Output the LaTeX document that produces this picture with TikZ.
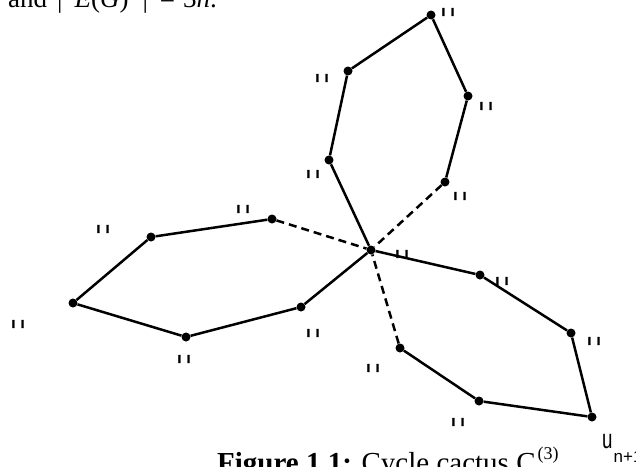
\documentclass[tikz,border=0pt]{standalone}
\usepackage{fontspec}
\setmainfont{Liberation Serif}
\newfontfamily\lblfont{Liberation Sans}
\newfontfamily\lblbold[FakeBold=1.5]{Liberation Sans Bold}
\begin{document}
\begin{tikzpicture}[x=1pt,y=-1pt,
  vtx/.style={circle,fill=black,inner sep=0pt,minimum size=9pt},
  edg/.style={line width=2.5pt},
  dsh/.style={line width=2.5pt,dash pattern=on 8pt off 5pt},
  lbl/.style={inner sep=0pt,font=\lblbold\fontsize{15}{15}\selectfont}]
\useasboundingbox (0,0) rectangle (636,466);
\clip (0,0) rectangle (636,466);
% vertices
\node[vtx] (c) at (371,250) {};
\node[vtx] (t1) at (329,160) {};
\node[vtx] (t2) at (348,71) {};
\node[vtx] (t3) at (431,15) {};
\node[vtx] (t4) at (468,96) {};
\node[vtx] (t5) at (445,182) {};
\node[vtx] (l1) at (272,219) {};
\node[vtx] (l2) at (151,237) {};
\node[vtx] (l3) at (73,303) {};
\node[vtx] (l4) at (186,337) {};
\node[vtx] (l5) at (301,307) {};
\node[vtx] (r1) at (480,275) {};
\node[vtx] (r2) at (571,333) {};
\node[vtx] (r3) at (592,417) {};
\node[vtx] (r4) at (479,401) {};
\node[vtx] (r5) at (400,348) {};
% edges
\draw[edg] (c) -- (t1) -- (t2) -- (t3) -- (t4) -- (t5);
\draw[dsh] (t5) -- (c);
\draw[dsh] (l1) -- (c);
\draw[edg] (l1) -- (l2) -- (l3) -- (l4) -- (l5) -- (c);
\draw[edg] (c) -- (r1) -- (r2) -- (r3) -- (r4) -- (r5);
\draw[dsh] (r5) -- (c);
% labels
\node[lbl] (a1) at (448,12) {ı\kern5ptı};
\node[lbl] (a2) at (322,78) {ı\kern5ptı};
\node[lbl] (a3) at (486,106) {ı\kern5ptı};
\node[lbl] (a4) at (313,174) {ı\kern5ptı};
\node[lbl] (a5) at (460,196) {ı\kern5ptı};
\node[lbl] (a6) at (402,254) {ı\kern5ptı};
\node[lbl] (a7) at (243,209) {ı\kern5ptı};
\node[lbl] (a8) at (103,229) {ı\kern5ptı};
\node[lbl] (a9) at (18,324) {ı\kern5ptı};
\node[lbl] (a10) at (184,359) {ı\kern5ptı};
\node[lbl] (a11) at (313,333) {ı\kern5ptı};
\node[lbl] (a12) at (502,281) {ı\kern5ptı};
\node[lbl] (a13) at (594,341) {ı\kern5ptı};
\node[lbl] (a14) at (373,368) {ı\kern5ptı};
\node[lbl] (a15) at (458,422) {ı\kern5ptı};
\node[inner sep=0pt,anchor=base west,font=\lblfont] (un) at (602,448)
  {\fontsize{24}{24}\selectfont\scalebox{0.78}[1.12]{u}\kern1pt\raisebox{-14pt}{\fontsize{17}{17}\selectfont n+1}};
% texts
\node[inner sep=0pt,anchor=base west,font=\fontsize{27}{27}\selectfont] (top) at (8,7)
  {and\kern10pt|\kern12pt\textit{E}(\textit{G})\kern14pt|\kern12pt=\kern8pt3\textit{n}.};
\node[inner sep=0pt,anchor=base west,font=\fontsize{29}{29}\selectfont] (cap) at (217,472)
  {\textbf{Figure 1.1:} Cycle cactus C\rlap{\raisebox{-7pt}{\fontsize{18}{18}\selectfont\textit{t}}}\kern2pt\raisebox{13pt}{\fontsize{18}{18}\selectfont(3)}};
\end{tikzpicture}
\end{document}
